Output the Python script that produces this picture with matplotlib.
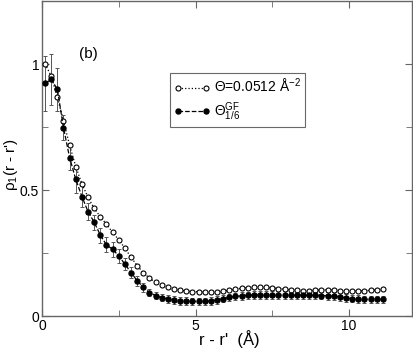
import matplotlib
matplotlib.use('Agg')
import matplotlib.pyplot as plt
from matplotlib.ticker import MultipleLocator

plt.rcParams['font.family'] = ['Liberation Sans', 'DejaVu Sans']
plt.rcParams['mathtext.fontset'] = 'custom'
plt.rcParams['mathtext.rm'] = 'Liberation Sans'
plt.rcParams['mathtext.it'] = 'Liberation Sans:italic'

# distance r - r' (Angstrom)
r = [0.1, 0.3, 0.5, 0.7, 0.9, 1.1, 1.3, 1.5, 1.7, 1.9,
     2.1, 2.3, 2.5, 2.7, 2.9, 3.1, 3.3, 3.5, 3.7, 3.9,
     4.1, 4.3, 4.5, 4.7, 4.9, 5.1, 5.3, 5.5, 5.7, 5.9,
     6.1, 6.3, 6.5, 6.7, 6.9, 7.1, 7.3, 7.5, 7.7, 7.9,
     8.1, 8.3, 8.5, 8.7, 8.9, 9.1, 9.3, 9.5, 9.7, 9.9,
     10.1, 10.3, 10.5, 10.7, 10.9, 11.1]

# Theta = 0.0512 A^-2 (open circles)
rho_theta = [1.000, 0.952, 0.868, 0.774, 0.677, 0.593, 0.524, 0.471, 0.427, 0.394,
             0.364, 0.332, 0.302, 0.269, 0.233, 0.200, 0.172, 0.150, 0.133, 0.122,
             0.114, 0.107, 0.102, 0.099, 0.097, 0.096, 0.096, 0.096, 0.097, 0.099,
             0.102, 0.106, 0.110, 0.113, 0.115, 0.115, 0.114, 0.112, 0.109, 0.106,
             0.104, 0.102, 0.101, 0.101, 0.102, 0.103, 0.104, 0.103, 0.101, 0.100,
             0.099, 0.099, 0.100, 0.102, 0.104, 0.106]

# Theta^GF_1/6 (filled circles)
rho_gf = [0.923, 0.939, 0.900, 0.747, 0.628, 0.542, 0.474, 0.414, 0.372, 0.321,
          0.282, 0.265, 0.238, 0.206, 0.172, 0.140, 0.114, 0.093, 0.081, 0.073,
          0.067, 0.063, 0.060, 0.059, 0.058, 0.058, 0.058, 0.060, 0.064, 0.069,
          0.074, 0.078, 0.080, 0.082, 0.083, 0.084, 0.084, 0.084, 0.083, 0.083,
          0.083, 0.083, 0.083, 0.082, 0.082, 0.081, 0.080, 0.079, 0.076, 0.072,
          0.069, 0.067, 0.066, 0.066, 0.066, 0.066]

err_gf = [0.110, 0.100, 0.085, 0.050, 0.050, 0.055, 0.040, 0.035, 0.030, 0.030,
          0.030, 0.030, 0.028, 0.025, 0.022, 0.020, 0.018, 0.015, 0.015, 0.015,
          0.015, 0.015, 0.015, 0.015, 0.015, 0.015, 0.015, 0.015, 0.015, 0.015,
          0.015, 0.015, 0.015, 0.015, 0.015, 0.015, 0.015, 0.015, 0.015, 0.015,
          0.015, 0.015, 0.015, 0.015, 0.015, 0.015, 0.015, 0.015, 0.015, 0.015,
          0.015, 0.015, 0.015, 0.015, 0.015, 0.015]

fig = plt.figure(figsize=(4.14, 3.53), dpi=100)
ax = fig.add_axes([42 / 414, 1 - 316 / 353, 370 / 414, 315 / 353])

ax.errorbar(r, rho_gf, yerr=err_gf, fmt='none', ecolor='#555555',
            elinewidth=0.7, capsize=1.5, capthick=0.7, zorder=2)
ax.plot(r, rho_theta, linestyle=':', color='black', linewidth=0.9,
        marker='o', markersize=3.6, markerfacecolor='white',
        markeredgecolor='black', markeredgewidth=0.8,
        label=r'$\Theta$=0.0512 Å$^{-2}$', zorder=3)
ax.plot(r, rho_gf, linestyle='--', color='black', linewidth=0.9,
        marker='o', markersize=3.6, markerfacecolor='black',
        markeredgecolor='black', label=r'$\Theta^{\rm GF}_{1/6}$', zorder=4)

ax.set_xlim(0, 12.05)
ax.set_ylim(0, 1.25)
ax.xaxis.set_major_locator(MultipleLocator(5))
ax.xaxis.set_minor_locator(MultipleLocator(2.5))
ax.yaxis.set_major_locator(MultipleLocator(0.5))
ax.yaxis.set_minor_locator(MultipleLocator(0.25))
ax.tick_params(which='both', direction='in', top=True, right=True,
               color='#666666', labelsize=10, pad=2)
ax.tick_params(which='major', length=5)
ax.tick_params(which='minor', length=4)
ax.xaxis.set_major_formatter(plt.FuncFormatter(lambda v, p: f'{v:g}'))
ax.yaxis.set_major_formatter(plt.FuncFormatter(lambda v, p: f'{v:g}'))
for s in ax.spines.values():
    s.set_color('#666666')
    s.set_linewidth(1.0)

ax.set_xlabel("r - r'  (Å)", fontsize=12)
ax.xaxis.set_label_coords(0.505, -0.044)
ax.set_ylabel("ρ$_1$(r - r')", fontsize=11)
ax.yaxis.set_label_coords(-0.06, 0.48)
ax.text(1.5, 1.04, '(b)', fontsize=11, ha='center', va='center')

leg = ax.legend(loc='upper left', bbox_to_anchor=(0.345, 0.77), numpoints=2,
                handlelength=2.6, fontsize=10, frameon=True, fancybox=False,
                borderpad=0.3, labelspacing=0.3, handletextpad=0.3,
                borderaxespad=0)
leg.get_frame().set_edgecolor('#444444')
leg.get_frame().set_linewidth(0.8)

fig.savefig('out.png', dpi=100)
